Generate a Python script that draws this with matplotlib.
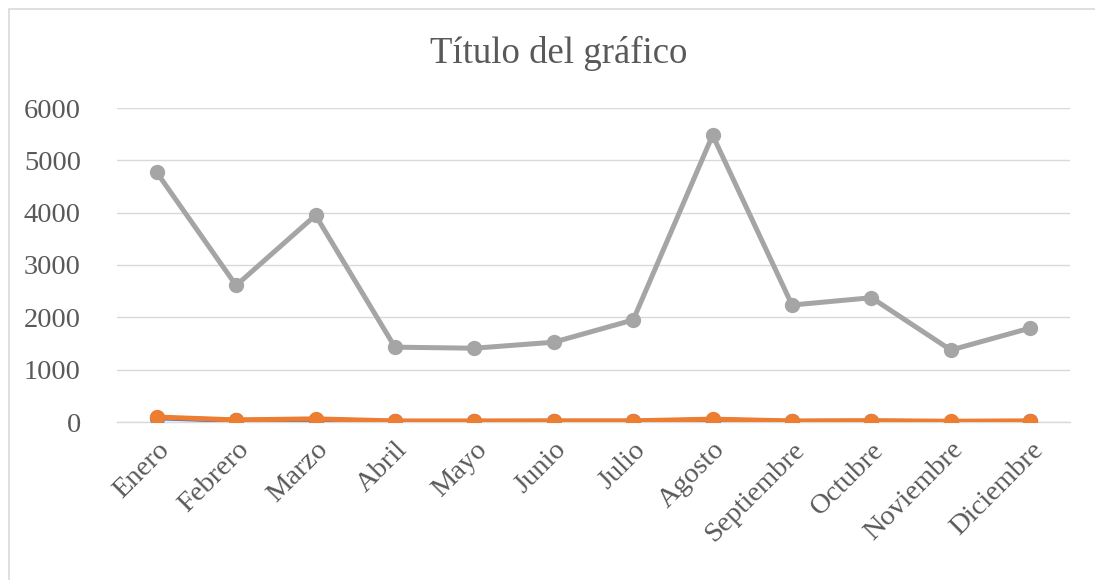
import matplotlib
matplotlib.use('Agg')
import matplotlib.pyplot as plt
from matplotlib.patches import Rectangle

# Data
meses = ['Enero', 'Febrero', 'Marzo', 'Abril', 'Mayo', 'Junio', 'Julio',
         'Agosto', 'Septiembre', 'Octubre', 'Noviembre', 'Diciembre']
serie1 = [80, 30, 45, 10, 10, 12, 12, 40, 10, 15, 5, 10]
serie2 = [95, 40, 60, 20, 20, 22, 22, 55, 20, 25, 15, 22]
serie3 = [4770, 2610, 3950, 1430, 1410, 1525, 1950, 5480, 2235, 2375, 1375, 1795]

plt.rcParams['font.family'] = ['Liberation Serif', 'DejaVu Serif']

fig = plt.figure(figsize=(10.95, 5.8), dpi=100)
ax = fig.add_axes([117/1095, 1 - 422/580, (1070-117)/1095, (422-108)/580])

x = list(range(len(meses)))
ax.plot(x, serie1, color='#4472C4', lw=3.6, marker='o', ms=10, zorder=3)
ax.plot(x, serie2, color='#ED7D31', lw=3.6, marker='o', ms=10, zorder=4)
ax.plot(x, serie3, color='#A5A5A5', lw=3.6, marker='o', ms=10, zorder=3)

ax.set_xlim(-0.5, len(meses) - 0.5)
ax.set_ylim(0, 6000)
ax.set_yticks(range(0, 6001, 1000))
ax.set_xticks(x)
ax.set_xticklabels(meses, rotation=45, ha='right', rotation_mode='anchor')
ax.tick_params(length=0, labelsize=20.5, colors='#595959')
ax.tick_params(axis='y', pad=26)
ax.tick_params(axis='x', pad=11)
ax.grid(axis='y', color='#d9d9d9', lw=1)
ax.set_axisbelow(True)
for s in ['top', 'right', 'left']:
    ax.spines[s].set_visible(False)
ax.spines['bottom'].set_color('#d9d9d9')
ax.spines['bottom'].set_linewidth(1)

fig.text(0.51, 1 - 53/580, 'Título del gráfico', ha='center', va='center',
         fontsize=26.5, color='#595959')

# outer frame
fig.add_artist(Rectangle((9/1095, -0.1), 1.2, (580-9)/580 + 0.1,
                         transform=fig.transFigure, fill=False,
                         edgecolor='#d9d9d9', lw=1.2))

fig.savefig('out.png', dpi=100)
